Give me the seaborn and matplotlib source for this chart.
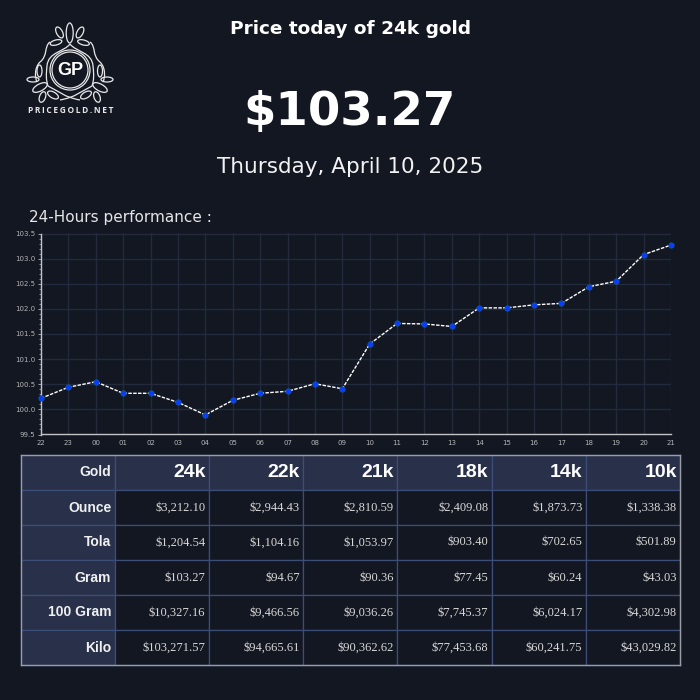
#!/usr/bin/env python3

import matplotlib
matplotlib.use("Agg")
import matplotlib.pyplot as plt
import pandas as pd
import seaborn as sns
from matplotlib.patches import Circle, Ellipse, PathPatch
from matplotlib.path import Path

BG = "#121722"
HEADER = "#293049"
GRID = "#242a3e"
LINE_BLUE = "#3c4d78"

hours = ["22", "23", "00", "01", "02", "03", "04", "05", "06", "07", "08", "09",
         "10", "11", "12", "13", "14", "15", "16", "17", "18", "19", "20", "21"]
prices = [100.22, 100.44, 100.55, 100.32, 100.32, 100.14, 99.89, 100.18,
          100.32, 100.36, 100.51, 100.41, 101.30, 101.71, 101.70, 101.65,
          102.02, 102.02, 102.08, 102.11, 102.44, 102.55, 103.08, 103.27]
y_ticks = [99.5, 100.0, 100.5, 101.0, 101.5, 102.0, 102.5, 103.0, 103.5]

karats = ["24k", "22k", "21k", "18k", "14k", "10k"]
units = ["Ounce", "Tola", "Gram", "100 Gram", "Kilo"]
ounce = ["$3,212.10", "$2,944.43", "$2,810.59", "$2,409.08", "$1,873.73", "$1,338.38"]
tola = ["$1,204.54", "$1,104.16", "$1,053.97", "$903.40", "$702.65", "$501.89"]
gram = ["$103.27", "$94.67", "$90.36", "$77.45", "$60.24", "$43.03"]
gram100 = ["$10,327.16", "$9,466.56", "$9,036.26", "$7,745.37", "$6,024.17", "$4,302.98"]
kilo = ["$103,271.57", "$94,665.61", "$90,362.62", "$77,453.68", "$60,241.75", "$43,029.82"]

sns.set_theme(style="dark")
plt.rcParams["font.family"] = ["DejaVu Sans"]

fig = plt.figure(figsize=(7, 7), dpi=100, facecolor=BG)


def box(left, top, right, bottom):
    """Axes rectangle given in picture pixels."""
    return [left / 700, 1 - bottom / 700, (right - left) / 700, (bottom - top) / 700]


# --------------------------------------------------------------------
# Headings
# --------------------------------------------------------------------

fig.text(350 / 700, 1 - 29 / 700, "Price today of 24k gold", color="white", fontsize=13.3,
         fontweight="bold", ha="center", va="center")
fig.text(350 / 700, 1 - 113 / 700, "$103.27", color="white", fontsize=33.6,
         fontweight="bold", ha="center", va="center")
fig.text(350 / 700, 1 - 167 / 700, "Thursday, April 10, 2025", color="#f2f2f2", fontsize=15.5,
         ha="center", va="center")
fig.text(29 / 700, 1 - 217 / 700, "24-Hours performance :", color="#e6e6e6", fontsize=11,
         ha="left", va="center")

# --------------------------------------------------------------------
# Logo
# --------------------------------------------------------------------

logo = fig.add_axes([0, 0, 1, 1], facecolor="none")
logo.set_xlim(0, 700)
logo.set_ylim(700, 0)
logo.axis("off")

LOGO_WHITE = "#e8e8e8"
logo.add_patch(Circle((70, 70), 20, fill=False, ec=LOGO_WHITE, lw=0.9))
logo.add_patch(Circle((70, 70), 18, fill=False, ec=LOGO_WHITE, lw=0.9))

leaves = [
    (69.7, 33, 7, 20, 0), (59.5, 32.5, 6, 12, -28), (80, 32.5, 6, 12, 28),
    (56, 42.5, 12, 5, -15), (83.5, 42.5, 12, 5, 15),
    (39.5, 71, 5, 12, 0), (100, 71, 5, 12, 0),
    (33, 79.5, 12, 5, 0), (107, 79.5, 12, 5, 0),
    (40, 87.5, 16, 7, -28), (100, 87.5, 16, 7, 28),
    (42.5, 97, 6, 11, 20), (97, 97, 6, 11, -20),
    (53, 95, 12, 6, 30), (86, 95, 12, 6, -30),
]
for x, y, w, h, angle in leaves:
    logo.add_patch(Ellipse((x, y), w, h, angle=angle, fill=False, ec=LOGO_WHITE, lw=0.9))

strands = [
    [(70, 44), (64, 52), (48, 52), (47, 66)],
    [(70, 44), (76, 52), (92, 52), (93, 66)],
    [(47, 66), (46, 75), (46, 80), (48, 86)],
    [(93, 66), (94, 75), (94, 80), (92, 86)],
    [(50, 42), (44, 46), (48, 56), (40, 62)],
    [(90, 42), (96, 46), (92, 56), (100, 62)],
    [(40, 62), (34, 68), (35, 78), (37, 82)],
    [(100, 62), (106, 68), (105, 78), (103, 82)],
    [(48, 86), (60, 92), (64, 97), (80, 100)],
    [(92, 86), (80, 92), (76, 97), (60, 100)],
]
for pts in strands:
    path = Path(pts, [Path.MOVETO, Path.CURVE4, Path.CURVE4, Path.CURVE4])
    logo.add_patch(PathPatch(path, fill=False, ec=LOGO_WHITE, lw=0.9))

logo.text(70, 70.5, "GP", color="white", fontsize=13, fontweight="bold",
          ha="center", va="center", family="Liberation Sans")
logo.text(70.5, 110.5, "\u2009".join("PRICEGOLD.NET"), color=LOGO_WHITE, fontsize=6,
          fontweight="bold", ha="center", va="center", family=["Open Sans", "DejaVu Sans"])

# --------------------------------------------------------------------
# 24-hour line
# --------------------------------------------------------------------

ax = fig.add_axes(box(41, 233.5, 671, 434.5), facecolor=BG)

df = pd.DataFrame({"hour": hours, "price": prices})
sns.lineplot(data=df, x="hour", y="price", ax=ax, sort=False, color="white", lw=1.0,
             linestyle=(0, (2.5, 1)), marker="o", markersize=4.0,
             markerfacecolor="#0a3cff", markeredgecolor="#0c5f90", markeredgewidth=0.4,
             clip_on=False, zorder=5)

ax.set_xlim(0, len(hours) - 1)
ax.set_ylim(99.5, 103.5)
ax.set_xticks(range(len(hours)))
ax.set_xticklabels(hours)
ax.set_yticks(y_ticks)
ax.set_yticklabels([f"{v:.1f}" for v in y_ticks])
ax.set_yticks([99.5 + i * 0.1 for i in range(41)], minor=True)
ax.set_xlabel("")
ax.set_ylabel("")
ax.grid(True, color=GRID, lw=1)
ax.tick_params(axis="both", which="major", colors="#b4b4b8", labelsize=5, length=2, width=0.6,
               pad=2, left=True, bottom=False)
ax.tick_params(axis="y", which="minor", colors="#b4b4b8", length=1.5, width=0.5, left=True)
for side in ["top", "right"]:
    ax.spines[side].set_visible(False)
for side in ["left", "bottom"]:
    ax.spines[side].set_visible(True)
    ax.spines[side].set_color("#c4c4c8")
    ax.spines[side].set_linewidth(1)

# --------------------------------------------------------------------
# Price table
# --------------------------------------------------------------------

tab_ax = fig.add_axes(box(21, 455, 680, 665), facecolor="none")
tab_ax.set_xticks([])
tab_ax.set_yticks([])

rows = [ounce, tola, gram, gram100, kilo]
cell_text = [["Gold"] + karats] + [[u] + r for u, r in zip(units, rows)]
first_w = 93.5 / 659
other_w = (1 - first_w) / 6

table = tab_ax.table(cellText=cell_text, cellLoc="right", bbox=[0, 0, 1, 1],
                     colWidths=[first_w] + [other_w] * 6)
table.auto_set_font_size(False)
for (r, c), cell in table.get_celld().items():
    cell.set_edgecolor(LINE_BLUE)
    cell.set_linewidth(0.9)
    cell.PAD = 0.035
    txt = cell.get_text()
    if r == 0 and c > 0:
        cell.set_facecolor(HEADER)
        txt.set_color("white")
        txt.set_fontsize(14)
        txt.set_fontweight("bold")
        txt.set_family("Liberation Sans")
    elif c == 0:
        cell.set_facecolor(HEADER)
        txt.set_color("#f0f0f0")
        txt.set_fontsize(10)
        txt.set_fontweight("bold")
        txt.set_family("Liberation Sans")
    else:
        cell.set_facecolor(BG)
        txt.set_color("#d8d8d8")
        txt.set_fontsize(9)
        txt.set_family("Liberation Serif")

# outer border of the table
for side in tab_ax.spines.values():
    side.set_visible(True)
    side.set_color("#9a9da6")
    side.set_linewidth(1)
    side.set_zorder(10)

fig.savefig("out.png", dpi=100, facecolor=BG)
